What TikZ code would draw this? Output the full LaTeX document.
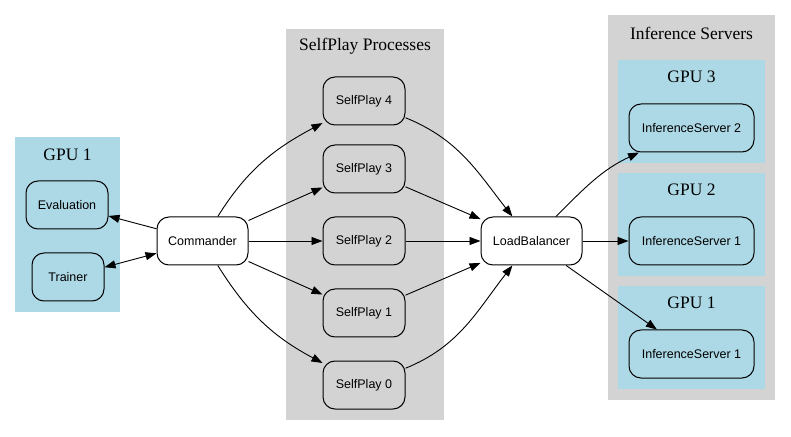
\documentclass[tikz,border=0pt]{standalone}
\usepackage{fontspec}
\setmainfont{Liberation Serif}
\newfontfamily\nodefont{Liberation Sans}
\usetikzlibrary{arrows.meta}
\definecolor{gvblue}{HTML}{ADD8E6}
\definecolor{gvgray}{HTML}{D3D3D3}
\begin{document}
\begin{tikzpicture}[x=1pt,y=1pt,
  box/.style={draw=black,line width=1pt,rounded corners=12pt,minimum height=48pt,inner sep=0pt,font=\nodefont\fontsize{12.5}{14}\selectfont},
  clabel/.style={font=\fontsize{17.5}{20}\selectfont,inner sep=0pt},
  arr/.style={-{Triangle[length=11pt,width=8pt]},line width=0.9pt},
  darr/.style={{Triangle[length=11pt,width=8pt]}-{Triangle[length=11pt,width=8pt]},line width=0.9pt}]
\useasboundingbox (0,0) rectangle (791,436);
\fill[white] (0,0) rectangle (791,436);
% clusters
\fill[gvblue] (15,124) rectangle (120,299);
\node[clabel] (lgpu1) at (67.5,281) {GPU 1};
\fill[gvgray] (286,16) rectangle (444,407);
\node[clabel] (lsp) at (365,390) {SelfPlay Processes};
\fill[gvgray] (608,36) rectangle (775,421);
\node[clabel] (linf) at (691.5,403) {Inference Servers};
\fill[gvblue] (618,273) rectangle (765,376);
\node[clabel] (lg3) at (691.5,359) {GPU 3};
\fill[gvblue] (618,160) rectangle (765,263);
\node[clabel] (lg2) at (691.5,246) {GPU 2};
\fill[gvblue] (618,47) rectangle (765,150);
\node[clabel] (lg1) at (691.5,133) {GPU 1};
% nodes
\node[box,minimum width=82pt] (eval) at (67,231) {Evaluation};
\node[box,minimum width=72pt] (trainer) at (68,159) {Trainer};
\node[box,fill=white,minimum width=91pt] (cmd) at (202.5,195) {Commander};
\node[box,minimum width=82pt] (sp4) at (364,335) {SelfPlay 4};
\node[box,minimum width=82pt] (sp3) at (364,267) {SelfPlay 3};
\node[box,minimum width=82pt] (sp2) at (364,195) {SelfPlay 2};
\node[box,minimum width=82pt] (sp1) at (364,123) {SelfPlay 1};
\node[box,minimum width=82pt] (sp0) at (364,51) {SelfPlay 0};
\node[box,fill=white,minimum width=101pt] (lb) at (531.5,195) {LoadBalancer};
\node[box,minimum width=125pt] (is2) at (691.5,308) {InferenceServer 2};
\node[box,minimum width=125pt] (is1a) at (691.5,195) {InferenceServer 1};
\node[box,minimum width=125pt] (is1b) at (691.5,82) {InferenceServer 1};
% edges
\draw[arr] (cmd) -- (eval);
\draw[darr] (trainer) -- (cmd);
\draw[arr] (cmd) to[out=58,in=208] (sp4);
\draw[arr] (cmd) -- (sp3);
\draw[arr] (cmd) -- (sp2);
\draw[arr] (cmd) -- (sp1);
\draw[arr] (cmd) to[out=-58,in=152] (sp0);
\draw[arr] (sp4) to[out=-22,in=128] (lb);
\draw[arr] (sp3) -- (lb);
\draw[arr] (sp2) -- (lb);
\draw[arr] (sp1) -- (lb);
\draw[arr] (sp0) to[out=22,in=-128] (lb);
\draw[arr] (lb) to[out=45,in=205] (is2);
\draw[arr] (lb) -- (is1a);
\draw[arr] (lb) -- (is1b);
\end{tikzpicture}
\end{document}
